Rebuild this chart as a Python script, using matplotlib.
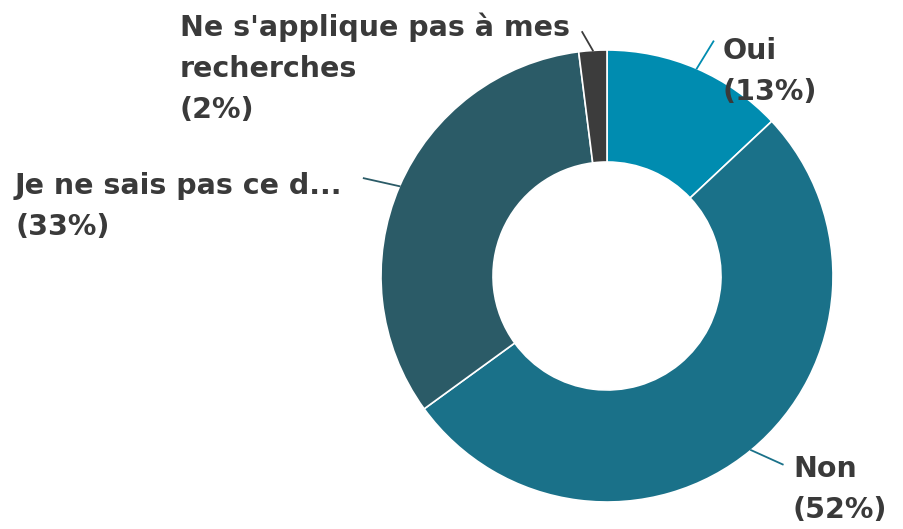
import numpy as np
import matplotlib.pyplot as plt

labels = ["Oui", "Non", "Je ne sais pas ce d...", "Ne s'applique pas à mes\nrecherches"]
values = [13, 52, 33, 2]
colors = ["#008cb0", "#1a7189", "#2b5b67", "#3c3c3c"]

W, H = 904, 529
fig = plt.figure(figsize=(W / 100, H / 100), dpi=100)
ax = fig.add_axes([0, 0, 1, 1])
ax.set_xlim(0, W)
ax.set_ylim(0, H)
ax.set_aspect("equal")
ax.axis("off")

cx, cy, r = 607, H - 276, 226
wedges, _ = ax.pie(values, colors=colors, startangle=90, counterclock=False,
                   radius=r, center=(cx, cy),
                   wedgeprops=dict(width=112, edgecolor="white", linewidth=1.2))
ax.set_xlim(0, W)
ax.set_ylim(0, H)

# label anchor (left edge, top of first line) in pixels
text_pos = [(723, 37), (793, 455), (15, 172), (180, 12)]
# leader line: radial length factor, angle shift (deg)
leader = [(1.14, -1.0), (1.14, 3.4), (1.16, 1.5), (1.085, 2.2)]

for w, lab, v, col, (tx, ty), (f, da) in zip(wedges, labels, values, colors, text_pos, leader):
    mid = (w.theta1 + w.theta2) / 2
    a0 = np.deg2rad(mid)
    a1 = np.deg2rad(mid + da)
    x0, y0 = cx + r * np.cos(a0), cy + r * np.sin(a0)
    x1, y1 = cx + r * f * np.cos(a1), cy + r * f * np.sin(a1)
    ax.plot([x0, x1], [y0, y1], color=col, lw=1.3)
    ax.text(tx, H - ty, f"{lab}\n({v}%)", ha="left", va="top", fontsize=20.5,
            fontweight="bold", color="#3a3a3a", linespacing=1.6)

fig.savefig("out.png", dpi=100)
